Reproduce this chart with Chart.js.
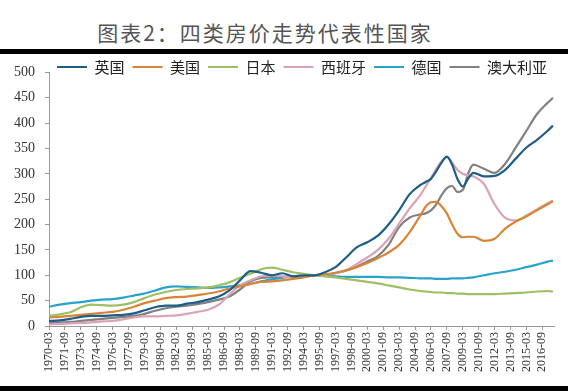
<!DOCTYPE html>
<html>
<head>
<meta charset="utf-8">
<script src="https://cdn.jsdelivr.net/npm/chart.js@4.4.1/dist/chart.umd.min.js"></script>
<style>
  html, body { margin: 0; padding: 0; background: #fff; }
  #wrap { position: relative; width: 568px; height: 391px; overflow: hidden; background: #fff; }
  #title { position: absolute; left: 0; width: 530px; top: 17px; text-align: center;
           font: 21px "Noto Sans CJK SC"; color: #555; letter-spacing: 2px; }
  .bar { position: absolute; left: 0; width: 568px; background: #000; }
  #box { position: absolute; left: 0; top: 54px; width: 568px; height: 332px; }
</style>
</head>
<body>
<div id="wrap">
  <div id="title">图表2：四类房价走势代表性国家</div>
  <div class="bar" style="top:49px;height:5px"></div>
  <div id="box"><canvas id="c" width="568" height="332"></canvas></div>
  <div class="bar" style="top:386px;height:5px"></div>
</div>
<script>
// x positions: decimal years, 1970 = 1970-03
const years = [1970, 1971, 1972, 1973, 1974, 1975, 1976, 1977, 1978, 1979,
  1980, 1981, 1982, 1983, 1984, 1985, 1986, 1987, 1988, 1989,
  1990, 1991, 1992, 1993, 1994, 1995, 1996, 1997, 1998, 1999,
  2000, 2001, 2002, 2003, 2004, 2005,
  2005.5, 2006, 2006.5, 2007, 2007.5, 2008, 2008.5, 2009, 2009.5, 2010,
  2011, 2012, 2013, 2014, 2015, 2016, 2017, 2017.5];

const uk = [10, 11, 14, 18, 20, 20, 21, 22, 25, 31,
  37, 40, 40, 44, 47, 52, 58, 70, 90, 108,
  105, 100, 104, 98, 100, 100, 106, 116, 135, 155,
  165, 178, 200, 228, 260, 278,
  284, 290, 305, 322, 334, 318, 290, 275, 290, 302,
  295, 296, 308, 330, 352, 367, 385, 395];

const us = [17, 18, 20, 22, 24, 26, 28, 32, 38, 45,
  50, 55, 57, 58, 61, 64, 68, 74, 78, 83,
  87, 88, 90, 93, 96, 100, 102, 105, 110, 116,
  124, 134, 145, 160, 185, 218,
  235, 244, 245, 236, 222, 200, 182, 175, 176, 176,
  168, 172, 192, 206, 216, 228, 240, 246];

const japan = [20, 23, 27, 37, 42, 41, 40, 42, 47, 55,
  62, 67, 71, 73, 74, 76, 80, 86, 95, 103,
  112, 115, 111, 106, 103, 100, 98, 96, 93, 90,
  87, 84, 80, 76, 72, 69,
  68, 67, 66, 66, 65, 65, 64, 64, 63, 63,
  63, 63, 64, 65, 66, 68, 69, 68];

const spain = [3, 4, 5, 6, 7, 9, 10, 13, 17, 19,
  19, 20, 21, 24, 28, 32, 42, 62, 80, 90,
  98, 100, 98, 96, 97, 100, 101, 104, 110, 122,
  135, 150, 172, 202, 232, 258,
  275, 292, 310, 325, 333, 322, 308, 300, 297, 295,
  280, 240, 213, 208, 218, 230, 242, 247];

const germany = [38, 42, 45, 47, 50, 52, 53, 56, 60, 64,
  70, 76, 78, 77, 76, 75, 76, 78, 80, 83,
  88, 92, 95, 98, 99, 100, 99, 98, 97, 97,
  97, 97, 96, 96, 95, 94,
  94, 94, 93, 93, 93, 94, 94, 94, 95, 96,
  100, 104, 107, 111, 116, 121, 127, 129];

const australia = [6, 7, 8, 10, 12, 14, 16, 18, 20, 24,
  30, 35, 38, 40, 43, 47, 52, 58, 72, 88,
  95, 96, 97, 98, 99, 100, 101, 104, 109, 117,
  127, 138, 160, 195, 214, 220,
  222, 228, 240, 258, 272, 276, 264, 268, 300, 318,
  310, 302, 320, 352, 385, 418, 440, 450];

const seriesNames = ['英国', '美国', '日本', '西班牙', '德国', '澳大利亚'];
const seriesColors = ['#1d5d88', '#d98536', '#9fbf63', '#d9a3b5', '#2aa3cc', '#808080'];
const seriesValues = [uk, us, japan, spain, germany, australia];

const xTickLabels = ['1970-03', '1971-09', '1973-03', '1974-09', '1976-03', '1977-09',
  '1979-03', '1980-09', '1982-03', '1983-09', '1985-03', '1986-09', '1988-03', '1989-09',
  '1991-03', '1992-09', '1994-03', '1995-09', '1997-03', '1998-09', '2000-03', '2001-09',
  '2003-03', '2004-09', '2006-03', '2007-09', '2009-03', '2010-09', '2012-03', '2013-09',
  '2015-03', '2016-09'];

function labelToYear(s) {
  const [y, m] = s.split('-').map(Number);
  return y + (m - 3) / 12;
}

const datasets = seriesNames.map((name, k) => ({
  label: name,
  data: years.map((x, i) => ({ x: x, y: seriesValues[k][i] })),
  borderColor: seriesColors[k],
  backgroundColor: seriesColors[k],
  borderWidth: 2.2,
  pointRadius: 0,
  cubicInterpolationMode: 'monotone'
}));

// legend sits inside the plot area, like the original
const legendInside = {
  id: 'legendInside',
  beforeLayout(chart) {
    const lg = chart.legend;
    if (lg && !lg._patched) {
      const fit = lg.fit;
      lg.fit = function () { fit.call(this); this.height = 0; };
      lg._patched = true;
    }
  },
  afterLayout(chart) {
    const lg = chart.legend;
    if (!lg) return;
    lg.top = -2.5;
    lg.height = 30;
    lg.bottom = lg.top + 30;
    lg.left = 49;
    lg.right = 620;
    lg.width = lg.right - lg.left;
  }
};

new Chart(document.getElementById('c'), {
  type: 'line',
  data: { datasets: datasets },
  options: {
    responsive: false,
    animation: false,
    layout: { padding: { left: 0, right: 14, top: 9, bottom: 0 } },
    plugins: {
      legend: {
        display: true,
        position: 'top',
        align: 'start',
        labels: {
          usePointStyle: true,
          pointStyle: 'line',
          pointStyleWidth: 30,
          padding: 8,
          color: '#222',
          font: { family: 'Noto Sans CJK SC', size: 15 }
        }
      },
      tooltip: { enabled: false }
    },
    scales: {
      x: {
        type: 'linear',
        min: 1970,
        max: 2017.6,
        afterBuildTicks: (scale) => {
          scale.ticks = xTickLabels.map(s => ({ value: labelToYear(s) }));
        },
        afterFit: (scale) => { scale.height = 60; },
        ticks: {
          autoSkip: false,
          minRotation: 90,
          maxRotation: 90,
          padding: 2,
          color: '#333',
          font: { family: 'Liberation Serif', size: 12 },
          callback: (value, index) => xTickLabels[index]
        },
        grid: { drawOnChartArea: false, drawTicks: true, tickLength: 4, color: '#999' },
        border: { display: true, color: '#999' }
      },
      y: {
        min: 0,
        max: 500,
        afterFit: (scale) => { scale.width = 49; },
        ticks: {
          stepSize: 50,
          padding: 10,
          color: '#333',
          font: { family: 'Liberation Serif', size: 14 }
        },
        grid: { drawOnChartArea: false, drawTicks: true, tickLength: 4, color: '#999' },
        border: { display: true, color: '#999' }
      }
    }
  },
  plugins: [legendInside]
});
</script>
</body>
</html>
